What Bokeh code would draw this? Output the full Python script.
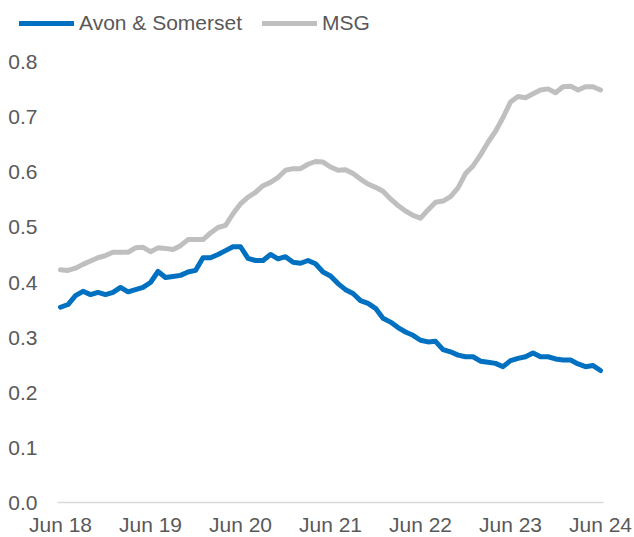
from bokeh.plotting import figure
from bokeh.models import Range1d, FixedTicker, Legend, LegendItem, ColumnDataSource
from bokeh.embed import file_html
from bokeh.resources import INLINE

# Monthly series, Jun 2018 .. Jun 2024 (73 months)
avon_somerset = [
    0.355, 0.360, 0.376, 0.384, 0.378, 0.382, 0.378, 0.382, 0.391, 0.383,
    0.387, 0.391, 0.400, 0.420, 0.409, 0.411, 0.413, 0.419, 0.422, 0.445,
    0.445, 0.451, 0.458, 0.465, 0.465, 0.444, 0.440, 0.440, 0.451, 0.443,
    0.447, 0.437, 0.435, 0.440, 0.434, 0.419, 0.412, 0.398, 0.387, 0.380,
    0.367, 0.362, 0.353, 0.335, 0.328, 0.318, 0.310, 0.304, 0.295, 0.292,
    0.293, 0.278, 0.274, 0.268, 0.265, 0.265, 0.257, 0.255, 0.253, 0.247,
    0.258, 0.262, 0.265, 0.272, 0.265, 0.265, 0.261, 0.259, 0.259, 0.252,
    0.247, 0.249, 0.240,
]
msg = [
    0.423, 0.422, 0.426, 0.433, 0.439, 0.445, 0.449, 0.455, 0.455, 0.455,
    0.463, 0.464, 0.456, 0.463, 0.462, 0.460, 0.467, 0.478, 0.478, 0.478,
    0.490, 0.500, 0.504, 0.525, 0.543, 0.555, 0.564, 0.576, 0.582, 0.591,
    0.604, 0.607, 0.607, 0.615, 0.620, 0.619, 0.610, 0.604, 0.605, 0.598,
    0.588, 0.579, 0.573, 0.566, 0.552, 0.540, 0.530, 0.522, 0.517, 0.532,
    0.546, 0.548, 0.556, 0.572, 0.598, 0.612, 0.632, 0.655, 0.675, 0.700,
    0.728, 0.738, 0.736, 0.743, 0.750, 0.752, 0.745, 0.756, 0.757, 0.750,
    0.756, 0.756, 0.750,
]
month_index = list(range(len(msg)))
tick_positions = [0, 12, 24, 36, 48, 60, 72]
tick_labels = ["Jun 18", "Jun 19", "Jun 20", "Jun 21", "Jun 22", "Jun 23", "Jun 24"]
y_ticks = [0.0, 0.1, 0.2, 0.3, 0.4, 0.5, 0.6, 0.7, 0.8]

BLUE = "#0070C0"
GREY = "#BFBFBF"
TEXT = "#595959"
FONT = "Liberation Sans"
FS = "21px"

source = ColumnDataSource(dict(x=month_index, avon=avon_somerset, msg=msg))

# frame covers the whole canvas so the legend and pinned axes are not clipped
p = figure(width=634, height=537, output_backend="svg", toolbar_location=None,
           x_range=Range1d(-8.0, 76.53), y_range=Range1d(-0.0636, 0.9127),
           min_border_left=0, min_border_right=0, min_border_top=0,
           min_border_bottom=0)
p.outline_line_color = None
p.background_fill_color = "white"
p.border_fill_color = "white"
p.xgrid.visible = False
p.ygrid.visible = False

r_msg = p.line("x", "msg", source=source, line_color=GREY, line_width=5,
               line_join="round", line_cap="round")
r_avon = p.line("x", "avon", source=source, line_color=BLUE, line_width=5,
                line_join="round", line_cap="round")

# x axis, pinned at y = 0
xa = p.xaxis[0]
xa.fixed_location = 0
xa.ticker = FixedTicker(ticks=tick_positions)
xa.major_label_overrides = {t: l for t, l in zip(tick_positions, tick_labels)}
xa.bounds = (-0.4, 72.4)
xa.axis_line_color = "#D9D9D9"
xa.axis_line_width = 1.5
xa.major_tick_line_color = None
xa.minor_tick_line_color = None
xa.major_tick_out = 0
xa.major_label_standoff = 10
xa.major_label_text_font = FONT
xa.major_label_text_font_size = FS
xa.major_label_text_color = TEXT

# y axis, pinned at the left edge of the data area
ya = p.yaxis[0]
ya.fixed_location = -0.4
ya.ticker = FixedTicker(ticks=y_ticks)
ya.major_label_overrides = {t: f"{t:.1f}" for t in y_ticks}
ya.axis_line_color = None
ya.major_tick_line_color = None
ya.minor_tick_line_color = None
ya.major_tick_out = 0
ya.major_label_standoff = 20
ya.major_label_text_font = FONT
ya.major_label_text_font_size = FS
ya.major_label_text_color = TEXT

legend = Legend(items=[LegendItem(label="Avon & Somerset", renderers=[r_avon]),
                       LegendItem(label="MSG", renderers=[r_msg])],
                location=(19, 502), orientation="horizontal",
                glyph_width=55, glyph_height=20, label_height=20,
                label_standoff=5, spacing=20, padding=0, margin=0,
                label_text_font=FONT, label_text_font_size=FS,
                label_text_color=TEXT, border_line_color=None,
                background_fill_alpha=0)
p.add_layout(legend, "center")

open("out.html", "w").write(file_html(p, INLINE))
